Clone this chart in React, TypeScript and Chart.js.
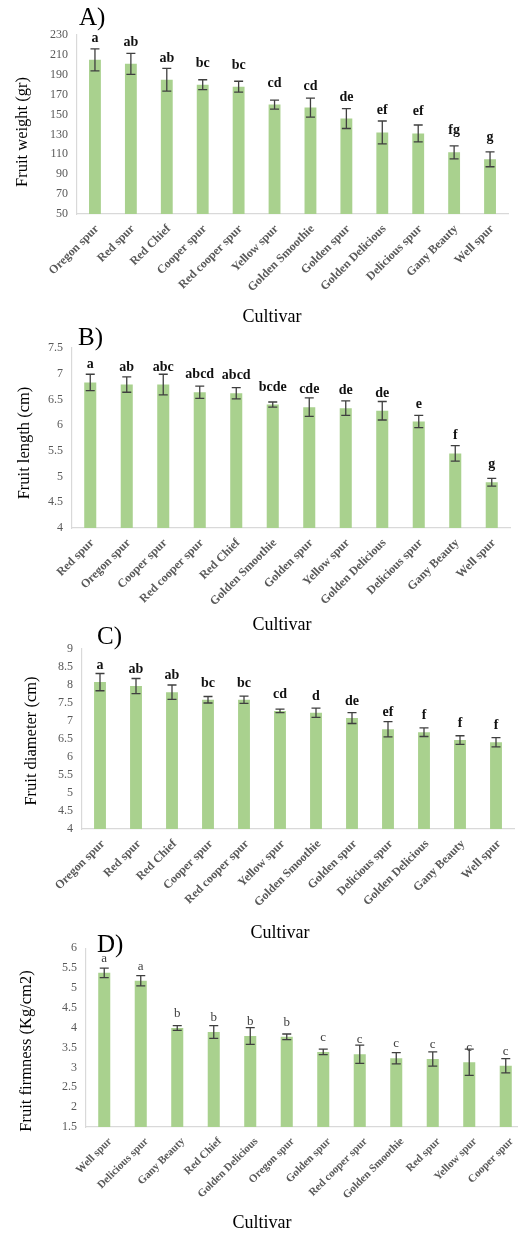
import React, { useEffect, useRef } from "react";
import { Chart, registerables } from "chart.js";

Chart.register(...registerables);

// ---- Fruit weight (gr) ----
const weightCultivars = ["Oregon spur", "Red spur", "Red Chief", "Cooper spur", "Red cooper spur", "Yellow spur", "Golden Smoothie", "Golden spur", "Golden Delicious", "Delicious spur", "Gany Beauty", "Well spur"];
const weightMeans = [205, 201, 185, 180, 178, 160, 157, 146, 132, 131, 112, 105];
const weightErrors = [11, 10.5, 11.5, 5, 5.5, 4.5, 9.5, 10, 11.5, 8.5, 6.5, 7.5];
const weightGroups = ["a", "ab", "ab", "bc", "bc", "cd", "cd", "de", "ef", "ef", "fg", "g"];

// ---- Fruit length (cm) ----
const lengthCultivars = ["Red spur", "Oregon spur", "Cooper spur", "Red cooper spur", "Red Chief", "Golden Smoothie", "Golden spur", "Yellow spur", "Golden Delicious", "Delicious spur", "Gany Beauty", "Well spur"];
const lengthMeans = [6.83, 6.79, 6.79, 6.64, 6.62, 6.4, 6.35, 6.33, 6.28, 6.07, 5.45, 4.89];
const lengthErrors = [0.16, 0.15, 0.2, 0.12, 0.11, 0.05, 0.18, 0.14, 0.18, 0.12, 0.15, 0.075];
const lengthGroups = ["a", "ab", "abc", "abcd", "abcd", "bcde", "cde", "de", "de", "e", "f", "g"];

// ---- Fruit diameter (cm) ----
const diameterCultivars = ["Oregon spur", "Red spur", "Red Chief", "Cooper spur", "Red cooper spur", "Yellow spur", "Golden Smoothie", "Golden spur", "Delicious spur", "Golden Delicious", "Gany Beauty", "Well spur"];
const diameterMeans = [8.08, 7.97, 7.8, 7.59, 7.59, 7.28, 7.23, 7.08, 6.77, 6.69, 6.47, 6.41];
const diameterErrors = [0.24, 0.21, 0.2, 0.09, 0.1, 0.05, 0.13, 0.15, 0.21, 0.12, 0.12, 0.13];
const diameterGroups = ["a", "ab", "ab", "bc", "bc", "cd", "d", "de", "ef", "f", "f", "f"];

// ---- Fruit firmness (Kg/cm2) ----
const firmnessCultivars = ["Well spur", "Delicious spur", "Gany Beauty", "Red Chief", "Golden Delicious", "Oregon spur", "Golden spur", "Red cooper spur", "Golden Smoothie", "Red spur", "Yellow spur", "Cooper spur"];
const firmnessMeans = [5.38, 5.18, 3.99, 3.89, 3.79, 3.77, 3.39, 3.33, 3.23, 3.21, 3.13, 3.04];
const firmnessErrors = [0.12, 0.13, 0.06, 0.16, 0.21, 0.07, 0.07, 0.23, 0.14, 0.18, 0.33, 0.18];
const firmnessGroups = ["a", "a", "b", "b", "b", "b", "c", "c", "c", "c", "c", "c"];

const SERIF = '"Liberation Serif", "Times New Roman", Times, serif';
const BAR_GREEN = "#a9d18e";
const AXIS_GREY = "#d9d9d9";
const TICK_GREY = "#595959";

type PanelSpec = {
  tag: string;
  yTitle: string;
  labels: string[];
  means: number[];
  errors: number[];
  groups: string[];
  yMin: number;
  yMax: number;
  yStep: number;
  // canvas placement
  top: number;
  width: number;
  height: number;
  plotLeft: number;
  plotRight: number;
  plotTop: number;
  plotBottom: number;
  // text placement (canvas coordinates)
  tagPos: [number, number];
  yTitlePos: [number, number];
  xTitlePos: [number, number];
  groupGap: number;
  groupFont: string;
  groupColor: string;
  xLabelSize: number;
  xLabelShift: number;
};

const panels: PanelSpec[] = [
  {
    tag: "A)", yTitle: "Fruit weight (gr)",
    labels: weightCultivars, means: weightMeans, errors: weightErrors, groups: weightGroups,
    yMin: 50, yMax: 230, yStep: 20,
    top: 0, width: 518, height: 330,
    plotLeft: 77, plotRight: 508, plotTop: 35, plotBottom: 214,
    tagPos: [79, 18], yTitlePos: [23, 132], xTitlePos: [272, 317],
    groupGap: 18, groupFont: `bold 14px ${SERIF}`, groupColor: "#111111",
    xLabelSize: 12, xLabelShift: 2,
  },
  {
    tag: "B)", yTitle: "Fruit length (cm)",
    labels: lengthCultivars, means: lengthMeans, errors: lengthErrors, groups: lengthGroups,
    yMin: 4, yMax: 7.5, yStep: 0.5,
    top: 325, width: 518, height: 310,
    plotLeft: 72, plotRight: 510, plotTop: 23, plotBottom: 203,
    tagPos: [78, 13], yTitlePos: [25, 118], xTitlePos: [282, 300],
    groupGap: 14, groupFont: `bold 14px ${SERIF}`, groupColor: "#111111",
    xLabelSize: 12, xLabelShift: 2,
  },
  {
    tag: "C)", yTitle: "Fruit diameter (cm)",
    labels: diameterCultivars, means: diameterMeans, errors: diameterErrors, groups: diameterGroups,
    yMin: 4, yMax: 9, yStep: 0.5,
    top: 622, width: 518, height: 320,
    plotLeft: 82, plotRight: 514, plotTop: 27, plotBottom: 207,
    tagPos: [97, 15], yTitlePos: [32, 119], xTitlePos: [280, 311],
    groupGap: 13, groupFont: `bold 14px ${SERIF}`, groupColor: "#111111",
    xLabelSize: 12, xLabelShift: 3,
  },
  {
    tag: "D)", yTitle: "Fruit firmness (Kg/cm2)",
    labels: firmnessCultivars, means: firmnessMeans, errors: firmnessErrors, groups: firmnessGroups,
    yMin: 1.5, yMax: 6, yStep: 0.5,
    top: 932, width: 530, height: 301,
    plotLeft: 86, plotRight: 524, plotTop: 15, plotBottom: 195,
    tagPos: [97, 13], yTitlePos: [27, 119], xTitlePos: [262, 291],
    groupGap: 11, groupFont: `13px ${SERIF}`, groupColor: "#404040",
    xLabelSize: 11, xLabelShift: 6,
  },
];

// Error bars (mean ± error) and significance letters above each bar
const errorBarPlugin = {
  id: "errorBarsAndGroups",
  afterDatasetsDraw(chart: any, _args: any, opts: any) {
    const { ctx } = chart;
    const yScale = chart.scales.y;
    const meta = chart.getDatasetMeta(0);
    const values = chart.data.datasets[0].data as number[];
    const cap = 4.5;
    ctx.save();
    meta.data.forEach((bar: any, i: number) => {
      const v = values[i];
      const e = opts.errors[i];
      const yTop = yScale.getPixelForValue(v + e);
      const yBot = yScale.getPixelForValue(v - e);
      ctx.strokeStyle = "#3f3f3f";
      ctx.lineWidth = 1.3;
      ctx.beginPath();
      ctx.moveTo(bar.x, yTop);
      ctx.lineTo(bar.x, yBot);
      ctx.moveTo(bar.x - cap, yTop);
      ctx.lineTo(bar.x + cap, yTop);
      ctx.moveTo(bar.x - cap, yBot);
      ctx.lineTo(bar.x + cap, yBot);
      ctx.stroke();

      ctx.fillStyle = opts.groupColor;
      ctx.font = opts.groupFont;
      ctx.textAlign = "center";
      ctx.textBaseline = "alphabetic";
      ctx.fillText(opts.groups[i], bar.x, bar.y - opts.groupGap);
    });
    ctx.restore();
  },
};

// Panel tag, axis titles
const panelTextPlugin = {
  id: "panelText",
  afterDraw(chart: any, _args: any, opts: any) {
    const { ctx } = chart;
    ctx.save();
    ctx.fillStyle = "#000000";
    ctx.textBaseline = "middle";

    ctx.font = `25px ${SERIF}`;
    ctx.textAlign = "left";
    ctx.fillText(opts.tag, opts.tagPos[0], opts.tagPos[1]);

    ctx.font = `18px ${SERIF}`;
    ctx.textAlign = "center";
    ctx.fillText("Cultivar", opts.xTitlePos[0], opts.xTitlePos[1]);

    ctx.translate(opts.yTitlePos[0], opts.yTitlePos[1]);
    ctx.rotate(-Math.PI / 2);
    ctx.font = `16.5px ${SERIF}`;
    ctx.fillText(opts.yTitle, 0, 0);
    ctx.restore();
  },
};

function Panel({ spec }: { spec: PanelSpec }) {
  const ref = useRef<HTMLCanvasElement | null>(null);

  useEffect(() => {
    if (!ref.current) return;
    const chart = new Chart(ref.current, {
      type: "bar",
      data: {
        labels: spec.labels,
        datasets: [
          {
            data: spec.means,
            backgroundColor: BAR_GREEN,
            borderWidth: 0,
            barPercentage: 0.33,
            categoryPercentage: 1,
          },
        ],
      },
      options: {
        animation: false,
        responsive: false,
        devicePixelRatio: 1,
        layout: {
          padding: {
            top: spec.plotTop,
            left: 0,
            right: spec.width - spec.plotRight,
            bottom: 0,
          },
        },
        plugins: {
          legend: { display: false },
          tooltip: { enabled: false },
          title: { display: false },
          errorBarsAndGroups: {
            errors: spec.errors,
            groups: spec.groups,
            groupGap: spec.groupGap,
            groupFont: spec.groupFont,
            groupColor: spec.groupColor,
          },
          panelText: {
            tag: spec.tag,
            yTitle: spec.yTitle,
            tagPos: spec.tagPos,
            yTitlePos: spec.yTitlePos,
            xTitlePos: spec.xTitlePos,
          },
        } as any,
        scales: {
          x: {
            grid: { display: false, drawTicks: false },
            border: { display: true, color: AXIS_GREY, width: 1.2 },
            ticks: {
              minRotation: 45,
              maxRotation: 45,
              autoSkip: false,
              padding: 8,
              labelOffset: spec.xLabelShift,
              color: TICK_GREY,
              font: { family: SERIF, size: spec.xLabelSize, weight: "bold" },
            },
            afterFit: (scale: any) => {
              scale.height = spec.height - spec.plotBottom;
            },
          },
          y: {
            min: spec.yMin,
            max: spec.yMax,
            grid: { display: false, drawTicks: false },
            border: { display: true, color: AXIS_GREY, width: 1.2 },
            ticks: {
              stepSize: spec.yStep,
              padding: 9,
              color: TICK_GREY,
              font: { family: SERIF, size: 12 },
              callback: (v: any) => String(Number(v)),
            },
            afterFit: (scale: any) => {
              scale.width = spec.plotLeft;
            },
          },
        },
      },
      plugins: [errorBarPlugin, panelTextPlugin],
    });
    return () => chart.destroy();
  }, [spec]);

  return (
    <canvas
      ref={ref}
      width={spec.width}
      height={spec.height}
      style={{ position: "absolute", left: 0, top: spec.top, width: spec.width, height: spec.height }}
    />
  );
}

export default function App() {
  return (
    <div
      style={{
        position: "absolute",
        left: 0,
        top: 0,
        width: 518,
        height: 1233,
        overflow: "hidden",
        background: "#ffffff",
      }}
    >
      {panels.map((p) => (
        <Panel key={p.tag} spec={p} />
      ))}
    </div>
  );
}
